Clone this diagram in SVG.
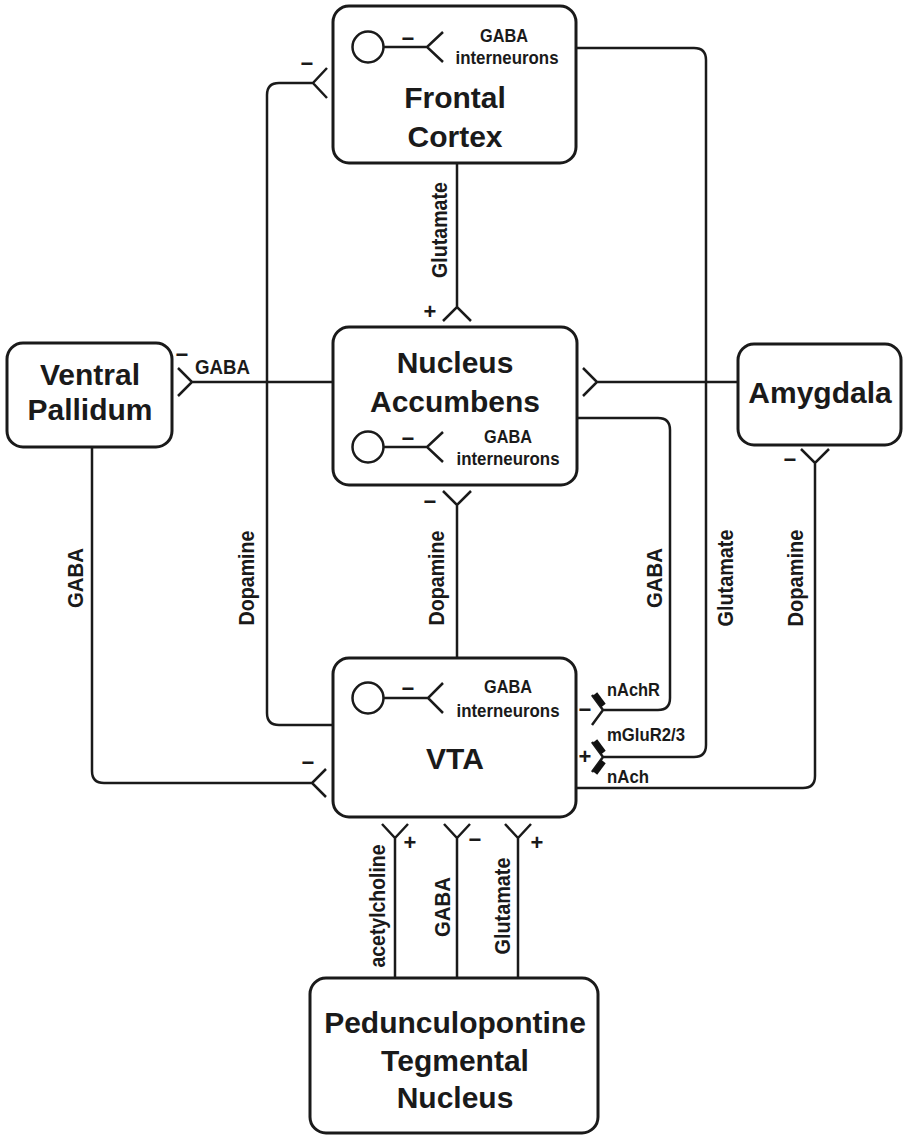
<svg xmlns="http://www.w3.org/2000/svg" width="904" height="1136" viewBox="0 0 904 1136">
<style>
.box{fill:#fff;stroke:#1a1a1a;stroke-width:3}
.ln{fill:none;stroke:#1a1a1a;stroke-width:2.5}
.bar{stroke:#111;stroke-width:5.5;stroke-linecap:butt}
.t{font-family:"Liberation Sans",Arial,Helvetica,sans-serif;font-weight:bold;fill:#1a1a1a}
.title{font-size:30px;text-anchor:middle}
.lbl{font-size:22px;text-anchor:middle}
.sm{font-size:19px}
.mid{text-anchor:middle}
.sign{font-size:22px;text-anchor:middle}
</style>
<rect width="904" height="1136" fill="#fff"/>

<g id="connectors">
  <!-- Frontal Cortex -> Nucleus Accumbens (Glutamate) -->
  <path class="ln" d="M457,163 V307 M443,321 L457,307 L471,321"/>
  <text class="t sign" x="430" y="319">+</text>
  <text class="t lbl" transform="translate(447,230) rotate(-90)" textLength="96" lengthAdjust="spacingAndGlyphs">Glutamate</text>

  <!-- Frontal Cortex -> VTA (Glutamate) -->
  <path class="ln" d="M576,48 H694 Q706,48 706,60 V745 Q706,757 694,757 H603 M592,742 L603,757 L592,772"/>
  <line class="bar" x1="595" y1="741" x2="603.5" y2="752.5"/>
  <line class="bar" x1="595" y1="773" x2="603.5" y2="761.5"/>
  <text class="t sign" x="585" y="764">+</text>
  <text class="t sm" x="607" y="741" textLength="78" lengthAdjust="spacingAndGlyphs">mGluR2/3</text>
  <text class="t sm" x="607" y="783" textLength="42" lengthAdjust="spacingAndGlyphs">nAch</text>
  <text class="t lbl" transform="translate(733,578) rotate(-90)" textLength="97" lengthAdjust="spacingAndGlyphs">Glutamate</text>

  <!-- VTA -> Frontal Cortex (Dopamine) -->
  <path class="ln" d="M333,725 H279 Q267,725 267,713 V95 Q267,83 279,83 H313 M327,68 L313,83 L327,98"/>
  <text class="t sign" x="307" y="71">−</text>
  <text class="t lbl" transform="translate(254,578) rotate(-90)" textLength="95" lengthAdjust="spacingAndGlyphs">Dopamine</text>

  <!-- VTA -> Nucleus Accumbens (Dopamine) -->
  <path class="ln" d="M457,658 V505 M443,491 L457,505 L471,491"/>
  <text class="t sign" x="430" y="509">−</text>
  <text class="t lbl" transform="translate(444,578) rotate(-90)" textLength="95" lengthAdjust="spacingAndGlyphs">Dopamine</text>

  <!-- Nucleus Accumbens -> VTA (GABA) -->
  <path class="ln" d="M577,418 H658 Q670,418 670,430 V698 Q670,710 658,710 H603 M592,695 L603,710 L592,725"/>
  <line class="bar" x1="595" y1="694" x2="603.5" y2="705.5"/>
  <text class="t sign" x="585" y="717">−</text>
  <text class="t sm" x="607" y="696" textLength="53" lengthAdjust="spacingAndGlyphs">nAchR</text>
  <text class="t lbl" transform="translate(662,578) rotate(-90)" textLength="60" lengthAdjust="spacingAndGlyphs">GABA</text>

  <!-- VTA -> Amygdala (Dopamine) -->
  <path class="ln" d="M576,788 H803 Q815,788 815,776 V463 M801,449 L815,463 L829,449"/>
  <text class="t sign" x="790" y="467">−</text>
  <text class="t lbl" transform="translate(803,578) rotate(-90)" textLength="97" lengthAdjust="spacingAndGlyphs">Dopamine</text>

  <!-- Amygdala -> Nucleus Accumbens -->
  <path class="ln" d="M738,382 H597 M583,368 L597,382 L583,396"/>

  <!-- Nucleus Accumbens -> Ventral Pallidum (GABA) -->
  <path class="ln" d="M333,382 H192 M178,368 L192,382 L178,396"/>
  <text class="t sign" x="182" y="362">−</text>
  <text class="t" x="195" y="374" font-size="20" textLength="55" lengthAdjust="spacingAndGlyphs">GABA</text>

  <!-- Ventral Pallidum -> VTA (GABA) -->
  <path class="ln" d="M92,447 V771 Q92,783 104,783 H312 M326,769 L312,783 L326,797"/>
  <text class="t sign" x="308" y="770">−</text>
  <text class="t lbl" transform="translate(83,578) rotate(-90)" textLength="60" lengthAdjust="spacingAndGlyphs">GABA</text>

  <!-- PPTg -> VTA (acetylcholine, GABA, Glutamate) -->
  <path class="ln" d="M395,978 V838 M382,824 L395,838 L408,824"/>
  <text class="t sign" x="410" y="850">+</text>
  <text class="t lbl" transform="translate(385,906) rotate(-90)" textLength="123" lengthAdjust="spacingAndGlyphs">acetylcholine</text>

  <path class="ln" d="M457,978 V838 M444,824 L457,838 L470,824"/>
  <text class="t sign" x="475" y="847">−</text>
  <text class="t lbl" transform="translate(450,907) rotate(-90)" textLength="60" lengthAdjust="spacingAndGlyphs">GABA</text>

  <path class="ln" d="M518,978 V838 M505,824 L518,838 L531,824"/>
  <text class="t sign" x="537" y="850">+</text>
  <text class="t lbl" transform="translate(510,906) rotate(-90)" textLength="97" lengthAdjust="spacingAndGlyphs">Glutamate</text>
</g>

<g id="frontal-cortex">
  <rect class="box" x="333" y="6" width="243" height="157" rx="16"/>
  <circle class="ln" cx="368" cy="47" r="15.5"/>
  <path class="ln" d="M384,47 H427 M443,32 L427,47 L443,62"/>
  <text class="t sign" x="408" y="46">−</text>
  <text class="t sm mid" x="504" y="42" textLength="48" lengthAdjust="spacingAndGlyphs">GABA</text>
  <text class="t sm mid" x="507" y="64" textLength="103" lengthAdjust="spacingAndGlyphs">interneurons</text>
  <text class="t title" x="455" y="108">Frontal</text>
  <text class="t title" x="455" y="147">Cortex</text>
</g>

<g id="nucleus-accumbens">
  <rect class="box" x="333" y="327" width="244" height="158" rx="16"/>
  <text class="t title" x="455" y="373">Nucleus</text>
  <text class="t title" x="455" y="412">Accumbens</text>
  <circle class="ln" cx="368" cy="447" r="15.5"/>
  <path class="ln" d="M384,447 H427 M443,432 L427,447 L443,462"/>
  <text class="t sign" x="408" y="446">−</text>
  <text class="t sm mid" x="508" y="443" textLength="48" lengthAdjust="spacingAndGlyphs">GABA</text>
  <text class="t sm mid" x="508" y="465" textLength="103" lengthAdjust="spacingAndGlyphs">interneurons</text>
</g>

<g id="ventral-pallidum">
  <rect class="box" x="7" y="343" width="165" height="104" rx="16"/>
  <text class="t title" x="90" y="385">Ventral</text>
  <text class="t title" x="90" y="420">Pallidum</text>
</g>

<g id="amygdala">
  <rect class="box" x="738" y="344" width="163" height="101" rx="16"/>
  <text class="t title" x="820" y="403">Amygdala</text>
</g>

<g id="vta">
  <rect class="box" x="333" y="658" width="243" height="159" rx="16"/>
  <circle class="ln" cx="368" cy="698" r="15.5"/>
  <path class="ln" d="M384,698 H428 M443,683 L428,698 L443,713"/>
  <text class="t sign" x="408" y="696">−</text>
  <text class="t sm mid" x="508" y="693" textLength="48" lengthAdjust="spacingAndGlyphs">GABA</text>
  <text class="t sm mid" x="508" y="717" textLength="103" lengthAdjust="spacingAndGlyphs">interneurons</text>
  <text class="t title" x="455" y="769">VTA</text>
</g>

<g id="pedunculopontine-tegmental-nucleus">
  <rect class="box" x="310" y="978" width="288" height="155" rx="16"/>
  <text class="t title" x="455" y="1033">Pedunculopontine</text>
  <text class="t title" x="455" y="1071">Tegmental</text>
  <text class="t title" x="455" y="1108">Nucleus</text>
</g>
</svg>
